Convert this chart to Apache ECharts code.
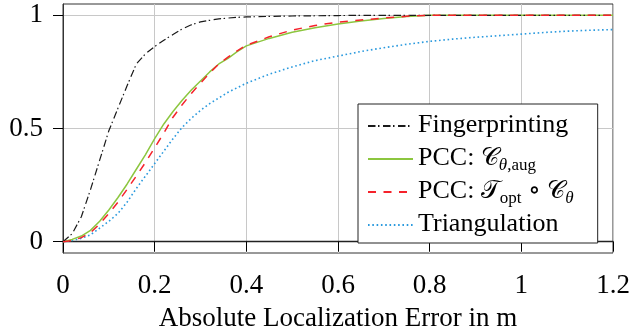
<!DOCTYPE html>
<html>
<head>
<meta charset="utf-8">
<script src="https://cdn.jsdelivr.net/npm/echarts@6/dist/echarts.min.js"></script>
<style>
  html, body { margin: 0; padding: 0; background: #fff; }
  #chart { width: 632px; height: 334px; }
</style>
</head>
<body>
<div id="chart"></div>
<script>
var errX = [0, 0.02, 0.04, 0.06, 0.08, 0.10, 0.12, 0.14, 0.16, 0.18, 0.20,
  0.22, 0.24, 0.26, 0.28, 0.30, 0.32, 0.34, 0.36, 0.38, 0.40,
  0.45, 0.50, 0.55, 0.60, 0.65, 0.70, 0.75, 0.80, 0.85, 0.90, 0.95, 1.00, 1.05, 1.10, 1.15, 1.20];
var fingerprinting = [0, 0.035, 0.11, 0.23, 0.36, 0.49, 0.59, 0.69, 0.785, 0.83, 0.862,
  0.89, 0.915, 0.94, 0.958, 0.971, 0.978, 0.984, 0.988, 0.991, 0.993,
  0.995, 0.997, 0.998, 0.999, 1, 1, 1, 1, 1, 1, 1, 1, 1, 1, 1, 1];
var pccAug = [0, 0.01, 0.025, 0.05, 0.09, 0.14, 0.195, 0.255, 0.32, 0.385, 0.455,
  0.52, 0.575, 0.625, 0.67, 0.71, 0.75, 0.785, 0.81, 0.84, 0.865,
  0.898, 0.925, 0.945, 0.962, 0.975, 0.986, 0.995, 1, 1, 1, 1, 1, 1, 1, 1, 1];
var pccOpt = [0, 0.005, 0.018, 0.04, 0.078, 0.125, 0.175, 0.232, 0.29, 0.35, 0.415,
  0.48, 0.55, 0.605, 0.655, 0.70, 0.745, 0.785, 0.815, 0.843, 0.868,
  0.905, 0.935, 0.955, 0.97, 0.979, 0.988, 0.996, 1, 1, 1, 1, 1, 1, 1, 1, 1];
var triangulation = [0, 0.005, 0.015, 0.03, 0.06, 0.09, 0.125, 0.175, 0.235, 0.29, 0.345,
  0.40, 0.455, 0.505, 0.545, 0.58, 0.61, 0.635, 0.66, 0.68, 0.70,
  0.74, 0.772, 0.80, 0.82, 0.84, 0.857, 0.872, 0.885, 0.895, 0.903, 0.91, 0.917, 0.924, 0.93, 0.934, 0.937];
var yTicks = [0, 0.5, 1];

var serif = "'Liberation Serif', 'DejaVu Serif', serif";

function pairs(ys) {
  return errX.map(function (x, i) { return [x, ys[i]]; });
}

var legendText = {
  'Fingerprinting': '{m|Fingerprinting}',
  'augmented': '{m|PCC: }{cal|𝒞}{subi|θ}{sub|,aug}',
  'optimized': '{m|PCC: }{cal|𝒯}{sub|opt}{m| ∘ }{cal|𝒞}{subi|θ}',
  'Triangulation': '{m|Triangulation}'
};

var chart = echarts.init(document.getElementById('chart'));
var option = {
  animation: false,
  grid: {
    left: 63, right: 19, top: 4, bottom: 81,
    outerBoundsMode: 'none',
    show: true, borderColor: '#333', borderWidth: 1
  },
  legend: {
    orient: 'vertical',
    left: 358, top: 104,
    padding: [8, 24, 3, 9],
    itemWidth: 45, itemHeight: 14, itemGap: 4,
    backgroundColor: '#fff',
    borderColor: '#222', borderWidth: 1,
    itemStyle: { opacity: 0 },
    formatter: function (name) { return legendText[name]; },
    textStyle: {
      color: '#000',
      rich: {
        m: { fontFamily: serif, fontSize: 26, lineHeight: 30, padding: [0, 0, 3, 0], verticalAlign: 'bottom', color: '#000' },
        cal: { fontFamily: serif, fontSize: 25, lineHeight: 30, padding: [0, 0, 3, 0], verticalAlign: 'bottom', color: '#000' },
        sub: { fontFamily: serif, fontSize: 17, lineHeight: 17, verticalAlign: 'bottom', color: '#000' },
        subi: { fontFamily: serif, fontStyle: 'italic', fontSize: 17, lineHeight: 17, verticalAlign: 'bottom', color: '#000' }
      }
    },
    data: ['Fingerprinting', 'augmented', 'optimized', 'Triangulation']
  },
  xAxis: {
    type: 'value',
    min: 0, max: 1.2, interval: 0.2,
    name: 'Absolute Localization Error in m',
    nameLocation: 'middle', nameGap: 52,
    nameTextStyle: { fontFamily: serif, fontSize: 27, color: '#000' },
    axisLine: { show: true, lineStyle: { color: '#222', width: 1.4 } },
    axisTick: { show: true, length: 10, lineStyle: { color: '#000' } },
    axisLabel: {
      fontFamily: serif, fontSize: 27, color: '#000', margin: 19,
      formatter: function (v) { return String(Math.round(v * 10) / 10); }
    },
    splitLine: { show: true, lineStyle: { color: '#c8c8c8', width: 1 } }
  },
  yAxis: {
    type: 'value',
    min: -0.05, max: 1.05,
    axisLine: { show: true, lineStyle: { color: '#333', width: 1 } },
    axisTick: { show: true, length: 10, customValues: yTicks, lineStyle: { color: '#000' } },
    axisLabel: {
      fontFamily: serif, fontSize: 27, color: '#000', margin: 20,
      customValues: yTicks,
      formatter: function (v) { return String(v); }
    },
    splitLine: { show: true, lineStyle: { color: '#c8c8c8', width: 1 } }
  },
  series: [
    {
      name: 'Fingerprinting', type: 'line', showSymbol: false, symbol: 'none', z: 4,
      data: pairs(fingerprinting),
      lineStyle: { color: '#1a1a1a', width: 1.2, type: [7.5, 2.5, 1.5, 3.5] },
      itemStyle: { color: '#1a1a1a' }
    },
    {
      name: 'augmented', type: 'line', showSymbol: false, symbol: 'none', z: 3,
      data: pairs(pccAug),
      lineStyle: { color: '#8cc63f', width: 1.5, type: 'solid' },
      itemStyle: { color: '#8cc63f' }
    },
    {
      name: 'optimized', type: 'line', showSymbol: false, symbol: 'none', z: 5,
      data: pairs(pccOpt),
      lineStyle: { color: '#f5222b', width: 1.5, type: [8, 7.5] },
      itemStyle: { color: '#f5222b' }
    },
    {
      name: 'Triangulation', type: 'line', showSymbol: false, symbol: 'none', z: 2,
      data: pairs(triangulation),
      lineStyle: { color: '#2b9ade', width: 1.6, type: [1.6, 2.7] },
      itemStyle: { color: '#2b9ade' }
    }
  ]
};
chart.setOption(option);
</script>
</body>
</html>
